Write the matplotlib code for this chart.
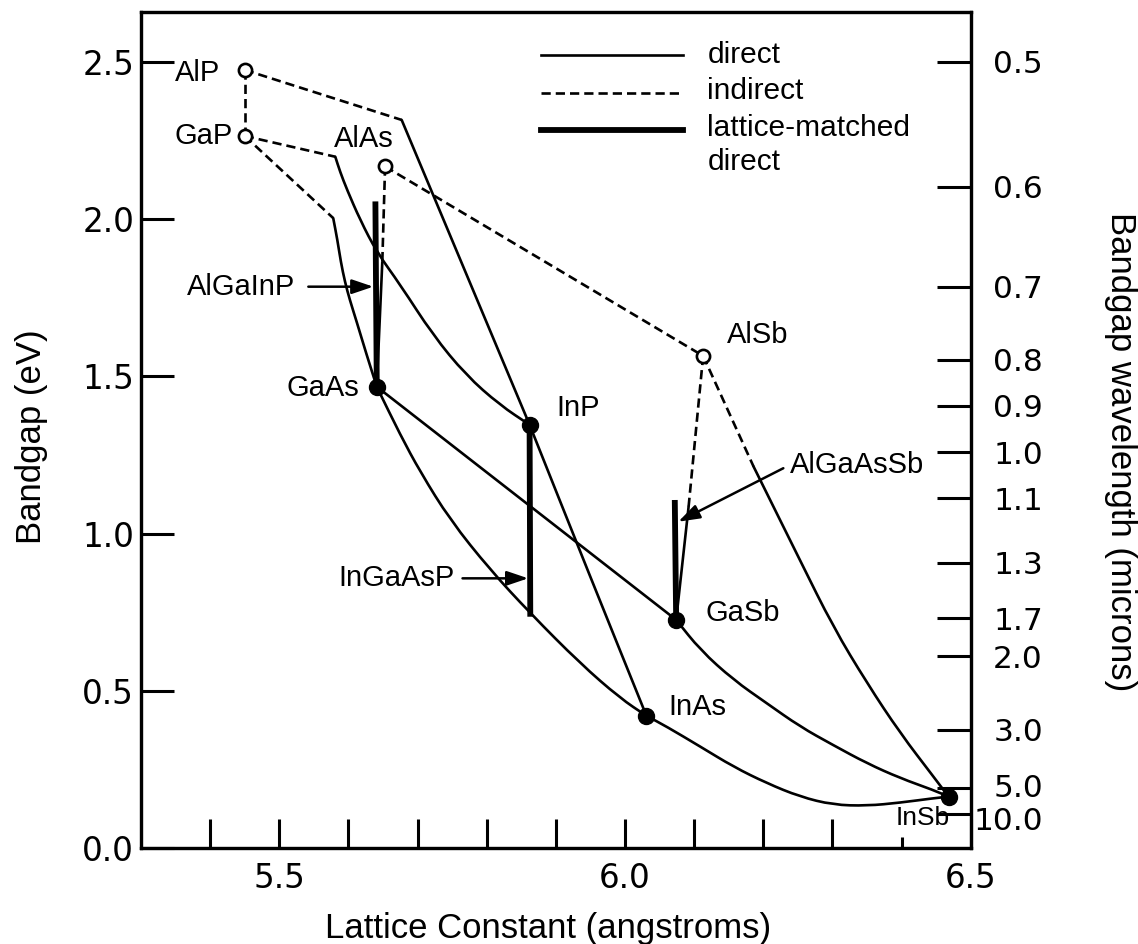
import matplotlib
matplotlib.use("Agg")
import matplotlib.pyplot as plt
from matplotlib.lines import Line2D
from matplotlib.path import Path
from matplotlib.patches import PathPatch
from matplotlib.transforms import ScaledTranslation

plt.rcParams['font.family'] = ['Liberation Sans', 'DejaVu Sans']

# ---------------- data ----------------
# binary compounds: lattice constant (angstrom), bandgap (eV)
binary_names = ['AlP', 'GaP', 'AlAs', 'AlSb', 'GaAs', 'InP', 'GaSb', 'InAs', 'InSb']
binary_a = [5.450, 5.450, 5.653, 6.113, 5.641, 5.862, 6.074, 6.031, 6.468]
binary_eg = [2.474, 2.264, 2.167, 1.565, 1.467, 1.346, 0.726, 0.421, 0.164]
binary_direct = [False, False, False, False, True, True, True, True, True]

# indirect-gap (dashed) branches
alp_gap_a, alp_gap_eg = [5.450, 5.450], [2.474, 2.264]
alinp_ind_a, alinp_ind_eg = [5.450, 5.677], [2.474, 2.315]
gainp_ind_a, gainp_ind_eg = [5.450, 5.581], [2.264, 2.198]
gaasp_ind_a, gaasp_ind_eg = [5.450, 5.578], [2.264, 2.003]
algaas_ind_a, algaas_ind_eg = [5.653, 5.649], [2.167, 1.864]
alassb_ind_a, alassb_ind_eg = [5.653, 6.113], [2.167, 1.565]
algasb_ind_a, algasb_ind_eg = [6.113, 6.092], [1.565, 1.086]
alinsb_ind_a, alinsb_ind_eg = [6.113, 6.186], [1.565, 1.213]

# direct-gap (solid) branches
alinp_dir_a, alinp_dir_eg = [5.677, 5.862], [2.315, 1.346]
gainp_dir_a = [5.581, 5.588, 5.598, 5.617, 5.641, 5.675, 5.722, 5.770, 5.819, 5.862]
gainp_dir_eg = [2.198, 2.150, 2.093, 1.997, 1.895, 1.791, 1.632, 1.504, 1.409, 1.346]
gaasp_dir_a = [5.578, 5.584, 5.589, 5.595, 5.602, 5.612, 5.626, 5.641]
gaasp_dir_eg = [2.003, 1.934, 1.864, 1.800, 1.743, 1.673, 1.571, 1.467]
algaas_dir_a, algaas_dir_eg = [5.649, 5.641], [1.864, 1.467]
ingaas_dir_a = [5.641, 5.675, 5.704, 5.747, 5.805, 5.863, 5.935, 5.993, 6.031]
ingaas_dir_eg = [1.467, 1.314, 1.196, 1.044, 0.885, 0.747, 0.588, 0.477, 0.421]
inasp_dir_a, inasp_dir_eg = [5.862, 5.947, 6.031], [1.346, 0.878, 0.421]
gaassb_dir_a, gaassb_dir_eg = [5.641, 6.074], [1.467, 0.726]
algasb_dir_a, algasb_dir_eg = [6.092, 6.074], [1.086, 0.726]
alinsb_dir_a = [6.186, 6.253, 6.301, 6.350, 6.398, 6.446, 6.468]
alinsb_dir_eg = [1.213, 0.916, 0.704, 0.525, 0.366, 0.228, 0.164]
gainsb_dir_a = [6.074, 6.109, 6.157, 6.205, 6.253, 6.301, 6.350, 6.398, 6.446, 6.468]
gainsb_dir_eg = [0.726, 0.630, 0.535, 0.461, 0.387, 0.328, 0.270, 0.223, 0.185, 0.164]
inassb_dir_a = [6.031, 6.060, 6.109, 6.157, 6.205, 6.253, 6.301, 6.350, 6.398, 6.446, 6.468]
inassb_dir_eg = [0.421, 0.387, 0.323, 0.259, 0.207, 0.164, 0.138, 0.135, 0.145, 0.159, 0.164]

# lattice-matched direct (thick)
algainp_lm_a, algainp_lm_eg = [5.641, 5.639], [1.467, 2.056]
ingaasp_lm_a, ingaasp_lm_eg = [5.862, 5.863], [1.346, 0.736]
algaassb_lm_a, algaassb_lm_eg = [6.074, 6.072], [0.726, 1.107]

# axes ticks
x_major = [5.5, 6.0, 6.5]
x_major_labels = ['5.5', '6.0', '6.5']
x_minor = [5.4, 5.6, 5.7, 5.8, 5.9, 6.1, 6.2, 6.3, 6.4]
y_ticks = [0.0, 0.5, 1.0, 1.5, 2.0, 2.5]
y_tick_labels = ['0.0', '0.5', '1.0', '1.5', '2.0', '2.5']
wl_labels = ['0.5', '0.6', '0.7', '0.8', '0.9', '1.0', '1.1', '1.3', '1.7', '2.0', '3.0', '5.0', '10.0']
wl_tick_ev = [2.500, 2.103, 1.785, 1.552, 1.407, 1.259, 1.113, 0.907, 0.731, 0.611, 0.376, 0.191, 0.109]

# ---------------- layout ----------------
fig = plt.figure(figsize=(11.38, 9.44), dpi=100)
ax = fig.add_axes([0.1239, 0.1014, 0.7291, 0.8862])
ax.set_xlim(5.3, 6.5)
ax.set_ylim(0, 2.659)

LW = 1.9
DASH = (3.5, 1.9)


def smooth_path(xs, ys):
    """Quadratic Bezier path through the read points (library curve primitives)."""
    pts = list(zip(xs, ys))
    if len(pts) <= 2:
        return Path(pts, [Path.MOVETO] + [Path.LINETO] * (len(pts) - 1))
    verts = [pts[0], ((pts[0][0] + pts[1][0]) / 2, (pts[0][1] + pts[1][1]) / 2)]
    codes = [Path.MOVETO, Path.LINETO]
    for i in range(1, len(pts) - 1):
        end = ((pts[i][0] + pts[i + 1][0]) / 2, (pts[i][1] + pts[i + 1][1]) / 2)
        verts += [pts[i], end]
        codes += [Path.CURVE3, Path.CURVE3]
    verts.append(pts[-1])
    codes.append(Path.LINETO)
    return Path(verts, codes)


indirect = [(alp_gap_a, alp_gap_eg), (alinp_ind_a, alinp_ind_eg), (gainp_ind_a, gainp_ind_eg),
            (gaasp_ind_a, gaasp_ind_eg), (algaas_ind_a, algaas_ind_eg), (alassb_ind_a, alassb_ind_eg),
            (algasb_ind_a, algasb_ind_eg), (alinsb_ind_a, alinsb_ind_eg)]
direct = [(alinp_dir_a, alinp_dir_eg), (gainp_dir_a, gainp_dir_eg), (gaasp_dir_a, gaasp_dir_eg),
          (algaas_dir_a, algaas_dir_eg), (ingaas_dir_a, ingaas_dir_eg), (inasp_dir_a, inasp_dir_eg),
          (gaassb_dir_a, gaassb_dir_eg), (algasb_dir_a, algasb_dir_eg), (alinsb_dir_a, alinsb_dir_eg),
          (gainsb_dir_a, gainsb_dir_eg), (inassb_dir_a, inassb_dir_eg)]
matched = [(algainp_lm_a, algainp_lm_eg), (ingaasp_lm_a, ingaasp_lm_eg), (algaassb_lm_a, algaassb_lm_eg)]

for a, e in indirect:
    ax.plot(a, e, color='black', lw=LW, dashes=DASH, zorder=2)
for a, e in direct:
    ax.add_patch(PathPatch(smooth_path(a, e), fill=False, edgecolor='black', lw=LW,
                           capstyle='round', joinstyle='round', zorder=2))
for a, e in matched:
    ax.plot(a, e, color='black', lw=4.2, solid_capstyle='butt', zorder=3)

for name, a, e, d in zip(binary_names, binary_a, binary_eg, binary_direct):
    if d:
        ax.plot([a], [e], 'o', ms=11.5, color='black', zorder=5)
    else:
        ax.plot([a], [e], 'o', ms=9.5, mfc='white', mec='black', mew=1.9, zorder=5)

# compound labels
FS = 21
lab_pos = {'AlP': (5.382, 2.463), 'GaP': (5.391, 2.264), 'AlAs': (5.6225, 2.254),
           'AlSb': (6.1924, 1.632), 'GaAs': (5.5637, 1.462), 'InP': (5.9325, 1.399),
           'GaSb': (6.1707, 0.747), 'InAs': (6.1042, 0.450), 'InSb': (6.431, 0.095)}
for name in binary_names:
    x, y = lab_pos[name]
    ax.text(x, y, name, fontsize=(19 if name == 'InSb' else FS), ha='center', va='center', zorder=6)

# alloy labels with arrows
arrow_kw = dict(arrowstyle='-|>,head_length=0.65,head_width=0.22', color='black', lw=1.8,
                shrinkA=0, shrinkB=0, mutation_scale=20)
ax.text(5.5227, 1.785, 'AlGaInP', fontsize=FS, ha='right', va='center')
ax.annotate('', xy=(5.636, 1.785), xytext=(5.542, 1.785), arrowprops=arrow_kw)
ax.text(5.7542, 0.858, 'InGaAsP', fontsize=FS, ha='right', va='center')
ax.annotate('', xy=(5.860, 0.858), xytext=(5.765, 0.858), arrowprops=arrow_kw)
ax.text(6.2387, 1.218, 'AlGaAsSb', fontsize=FS, ha='left', va='center')
ax.annotate('', xy=(6.0771, 1.038), xytext=(6.229, 1.208), arrowprops=arrow_kw)

# legend drawn in axes fraction
lx0, lx1, tx = 0.4818, 0.6536, 0.6825
ax.add_line(Line2D([lx0, lx1], [0.9482, 0.9482], transform=ax.transAxes, color='black', lw=LW))
ax.add_line(Line2D([lx0, lx1], [0.9032, 0.9032], transform=ax.transAxes, color='black', lw=LW, dashes=DASH))
ax.add_line(Line2D([lx0, lx1], [0.8586, 0.8586], transform=ax.transAxes, color='black', lw=4.2))
for yb, t in [(0.939, 'direct'), (0.8956, 'indirect'), (0.8514, 'lattice-matched'), (0.8108, 'direct')]:
    ax.text(tx, yb, t, transform=ax.transAxes, fontsize=21.5, ha='left', va='baseline')

# axes styling
TICKFONT = 'DejaVu Sans'
TFS = 23.5
for s in ax.spines.values():
    s.set_linewidth(2.3)
ax.set_xticks(x_major)
ax.set_xticklabels(x_major_labels, fontfamily=TICKFONT)
ax.set_xticks(x_minor, minor=True)
ax.tick_params(axis='x', which='both', direction='in', length=21, width=2.2, labelsize=TFS, pad=10, top=False)
ax.set_yticks(y_ticks)
ax.set_yticklabels(y_tick_labels, fontfamily=TICKFONT)
ax.tick_params(axis='y', direction='in', length=24, width=2.2, labelsize=TFS, pad=5)

ax2 = ax.twinx()
ax2.set_ylim(0, 2.659)
ax2.set_yticks(wl_tick_ev)
ax2.set_yticklabels(wl_labels, fontfamily=TICKFONT)
ax2.tick_params(axis='y', direction='in', length=24.5, width=2.2, labelsize=22.5, pad=52)
for lbl in ax2.get_yticklabels():
    lbl.set_horizontalalignment('right')
for s in ax2.spines.values():
    s.set_linewidth(2.3)
rl = ax2.get_yticklabels()
rl[-2].set_transform(rl[-2].get_transform() + ScaledTranslation(0, 2 / 72, fig.dpi_scale_trans))
rl[-1].set_transform(rl[-1].get_transform() + ScaledTranslation(0, -3 / 72, fig.dpi_scale_trans))

mt = ax.xaxis.get_minor_ticks()
mt[-1].tick1line.set_markersize(8)

fig.text(32 / 1138, 1 - 437 / 944, 'Bandgap (eV)', rotation=90, fontsize=25, ha='center', va='center')
fig.text(1120 / 1138, 1 - 452 / 944, 'Bandgap wavelength (microns)', rotation=270, fontsize=25,
         ha='center', va='center')
fig.text(548 / 1138, 1 - 938 / 944, 'Lattice Constant (angstroms)', fontsize=25, ha='center', va='baseline')

fig.savefig('out.png', dpi=100)
